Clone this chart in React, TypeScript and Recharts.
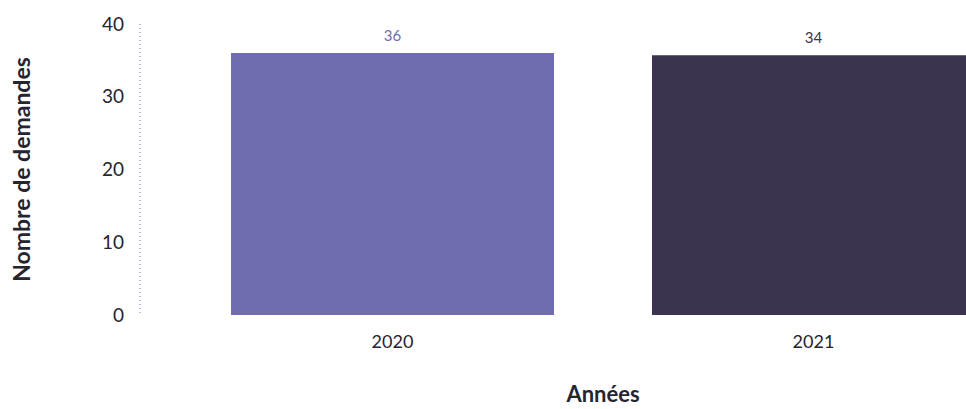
import { BarChart, Bar, XAxis, YAxis, Cell, LabelList, Label } from "recharts";

const years = ["2020", "2021"];
// bar heights as drawn in the reference; the printed labels differ for 2021
const demandes = [36, 35.7];
const barLabels = ["36", "34"];
const barColors = ["#706cb0", "#3b3350"];
const yTicks = [0, 10, 20, 30, 40];

const data = years.map((year, i) => ({ year, demandes: demandes[i], label: barLabels[i] }));

const font = "Lato, 'Noto Sans', sans-serif";

function BarValue(props: any) {
  const { x, y, width, value, index } = props;
  const i = typeof index === "number" ? index : barLabels.indexOf(String(value));
  return (
    <text
      x={Number(x) + Number(width) / 2}
      y={Number(y) - 12}
      textAnchor="middle"
      fill={barColors[i] ?? "#333"}
      fontSize={15}
      fontFamily={font}
    >
      {value}
    </text>
  );
}

export default function App() {
  return (
    <div style={{ position: "absolute", left: 0, top: 0, width: 966, height: 409, overflow: "hidden", background: "#fff" }}>
      <BarChart width={1066} height={409} data={data} margin={{ top: 24, right: 0, left: 0, bottom: 0 }}>
        <XAxis
          dataKey="year"
          height={94}
          padding={{ left: 42, right: 42 }}
          axisLine={false}
          tickLine={false}
          tickMargin={14}
          tick={{ fontSize: 18, fill: "#26242f", fontFamily: font }}
        >
          <Label
            value="Années"
            position="insideBottom"
            offset={7}
            style={{ fontSize: 22, fontWeight: 700, fill: "#26242f", fontFamily: font }}
          />
        </XAxis>
        <YAxis
          width={140}
          domain={[0, 40]}
          ticks={yTicks}
          interval={0}
          tickLine={false}
          tickMargin={10}
          axisLine={{ stroke: "#7f7bbd", strokeDasharray: "1 3" }}
          tick={{ fontSize: 19, fill: "#26242f", fontFamily: font }}
        >
          <Label
            value="Nombre de demandes"
            angle={-90}
            position="insideLeft"
            offset={22}
            style={{ textAnchor: "middle", fontSize: 23, fontWeight: 700, fill: "#26242f", fontFamily: font }}
          />
        </YAxis>
        <Bar dataKey="demandes" barSize={323} isAnimationActive={false}>
          {data.map((d, i) => (
            <Cell key={d.year} fill={barColors[i]} />
          ))}
          <LabelList dataKey="label" content={BarValue} />
        </Bar>
      </BarChart>
    </div>
  );
}
